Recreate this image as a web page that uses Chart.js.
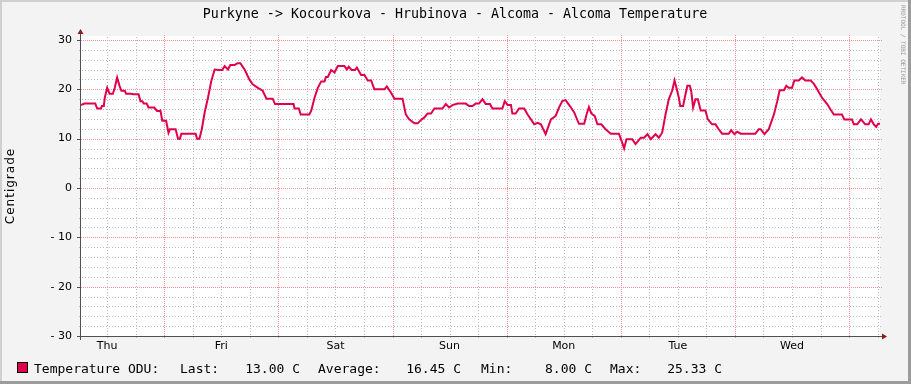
<!DOCTYPE html>
<html>
<head>
<meta charset="utf-8">
<script src="https://cdn.jsdelivr.net/npm/chart.js@4.4.1/dist/chart.umd.min.js"></script>
<style>
  html, body { margin: 0; padding: 0; background: #f3f3f3; }
  #grafico { display: block; }
</style>
</head>
<body>
<canvas id="grafico" width="911" height="384"></canvas>
<script>
// hodiny od ctvrtka 00:00
const hours = [
  6.5, 7.2, 9.5, 9.9, 10.7, 10.9, 11.3, 11.5, 12.0, 12.5, 13.2, 13.6, 14.1, 14.6, 15.0, 15.7,
  16.0, 17.0, 17.5, 18.6, 19.0, 19.4, 19.7, 20.3, 20.7, 21.9, 22.5, 22.9, 23.2, 23.6, 24.4, 24.9,
  25.2, 26.4, 26.9, 27.3, 27.6, 30.6, 30.9, 31.4, 31.9, 32.5, 33.2, 33.9, 34.6, 35.6, 36.2, 36.7,
  37.4, 37.9, 38.8, 39.4, 40.0, 40.9, 41.9, 42.6, 43.7, 44.7, 45.5, 46.8, 47.3, 51.2, 51.4, 52.3,
  52.7, 54.5, 54.9, 55.6, 56.3, 57.0, 57.7, 58.0, 58.4, 59.1, 59.8, 60.5, 61.9, 62.4, 62.8, 63.4,
  64.1, 64.5, 65.4, 66.1, 66.8, 67.5, 68.2, 70.3, 70.8, 71.7, 72.4, 74.1, 74.8, 75.5, 76.6, 77.3,
  78.0, 78.7, 79.4, 80.1, 80.8, 82.5, 83.2, 83.9, 84.6, 85.7, 87.4, 88.1, 88.8, 89.5, 90.2, 90.9,
  91.6, 92.5, 93.0, 95.1, 95.6, 96.2, 96.9, 97.2, 97.9, 98.6, 99.7, 100.4, 101.1, 101.8, 102.5, 103.2,
  104.2, 105.3, 106.3, 107.0, 107.7, 108.4, 109.3, 110.2, 111.2, 112.3, 112.8, 113.3, 113.8, 114.5, 115.1, 115.9,
  116.8, 117.9, 119.6, 120.3, 120.7, 121.2, 122.4, 123.1, 124.2, 124.9, 125.6, 126.3, 127.3, 128.0, 128.7, 129.4,
  130.1, 130.8, 131.3, 131.7, 132.2, 132.5, 133.1, 133.6, 134.0, 134.5, 134.8, 135.2, 135.7, 136.2, 136.8, 137.8,
  138.3, 139.2, 139.9, 140.6, 141.3, 142.7, 143.2, 143.9, 144.5, 145.2, 148.3, 149.0, 149.4, 150.2, 151.1, 152.2,
  152.9, 153.4, 154.3, 154.8, 155.3, 156.0, 156.5, 157.4, 158.1, 158.8, 159.9, 160.6, 161.3, 162.3, 163.4, 164.1,
  164.8, 166.5, 167.0, 168.6, 169.0, 169.7, 170.5, 171.4, 172.1, 172.6, 173.2, 173.7, 174.1, 174.5
];
const temps = [
  16.8, 17.1, 17.1, 16.1, 16.1, 16.6, 16.6, 18.3, 20.3, 19.1, 19.1, 20.3, 22.4, 20.7, 19.7, 19.7,
  19.1, 19.1, 19.0, 19.0, 17.6, 17.6, 17.1, 17.1, 16.3, 16.3, 15.6, 15.6, 15.7, 13.6, 13.6, 11.2,
  11.9, 11.9, 10.0, 10.0, 11.0, 11.0, 10.0, 10.0, 11.9, 15.3, 18.3, 21.7, 24.0, 23.9, 23.9, 24.7,
  24.0, 24.9, 24.9, 25.3, 25.3, 24.0, 22.0, 21.0, 20.3, 19.7, 18.1, 18.1, 17.0, 17.0, 16.1, 16.1,
  14.9, 14.9, 15.6, 18.3, 20.3, 21.6, 21.6, 22.5, 22.5, 23.9, 23.4, 24.7, 24.7, 24.0, 24.6, 23.9,
  23.9, 24.4, 22.9, 22.9, 21.8, 21.8, 20.0, 20.0, 20.6, 19.3, 18.1, 18.1, 14.9, 13.9, 13.1, 13.1,
  13.8, 14.3, 15.1, 15.1, 16.1, 16.1, 17.0, 16.3, 16.8, 17.1, 17.1, 16.6, 16.6, 17.1, 17.1, 18.0,
  17.0, 17.0, 16.1, 16.1, 17.6, 16.8, 16.8, 15.1, 15.1, 16.1, 16.1, 14.9, 13.9, 12.9, 13.2, 12.9,
  10.9, 13.9, 14.6, 16.3, 17.6, 17.8, 16.6, 15.3, 13.0, 13.0, 14.9, 16.4, 15.1, 14.6, 12.9, 12.9,
  11.9, 11.0, 11.0, 9.2, 8.0, 9.9, 9.9, 8.9, 10.2, 10.2, 10.9, 9.9, 10.9, 10.2, 11.2, 14.9,
  18.0, 19.7, 21.8, 20.3, 18.3, 16.6, 16.6, 19.0, 20.7, 20.7, 19.7, 16.3, 18.0, 18.0, 15.7, 15.7,
  13.9, 12.9, 12.9, 11.9, 11.0, 11.0, 11.7, 10.9, 11.4, 11.0, 11.0, 11.9, 11.9, 10.9, 11.9, 14.9,
  17.6, 19.8, 19.8, 20.7, 20.3, 20.3, 21.8, 21.8, 22.4, 21.8, 21.8, 21.1, 20.0, 18.3, 17.0, 15.9,
  14.9, 14.9, 13.9, 13.9, 12.9, 12.9, 13.9, 12.9, 12.9, 13.9, 12.9, 12.4, 13.0, 13.0
];
const dayNames = ["Thu", "Fri", "Sat", "Sun", "Mon", "Tue", "Wed"];
const dayNoon = [12, 36, 60, 84, 108, 132, 156];
const yTicks = [-30, -20, -10, 0, 10, 20, 30];
const statNames = ["Last:", "Average:", "Min:", "Max:"];
const statValues = [13.00, 16.45, 8.00, 25.33];

const titulek = "Purkyne -> Kocourkova - Hrubinova - Alcoma - Alcoma Temperature";
const nazevRady = "Temperature ODU:";
const barvaCary = "#e0004c";
const mono = "'DejaVu Sans Mono', monospace";
const sans = "'DejaVu Sans', sans-serif";

// pozadi, mrizka, osy, legenda - ve stylu rrdtool
const rrdPlugin = {
  id: "rrd",
  beforeDraw(chart) {
    const { ctx, chartArea: a } = chart;
    ctx.save();
    ctx.fillStyle = "#f3f3f3";
    ctx.fillRect(0, 0, 911, 384);
    ctx.fillStyle = "#d0d0d0";
    ctx.fillRect(0, 0, 911, 2);
    ctx.fillRect(0, 0, 2, 384);
    ctx.fillStyle = "#9c9c9c";
    ctx.fillRect(908, 0, 3, 384);
    ctx.fillRect(0, 381, 911, 3);
    ctx.fillStyle = "#ffffff";
    ctx.fillRect(a.left, a.top, a.right - a.left, a.bottom - a.top);
    ctx.restore();
  },
  beforeDatasetsDraw(chart) {
    const { ctx, chartArea: a, scales } = chart;
    const xs = scales.x, ys = scales.y;
    ctx.save();
    ctx.lineWidth = 1;
    // jemna mrizka
    ctx.strokeStyle = "#bcbcbc";
    ctx.setLineDash([1, 2]);
    for (let v = -28; v <= 28; v += 2) {
      if (v % 10 === 0) continue;
      const y = Math.round(ys.getPixelForValue(v)) + 0.5;
      ctx.beginPath(); ctx.moveTo(a.left - 2, y); ctx.lineTo(a.right + 2, y); ctx.stroke();
    }
    for (let h = 12; h <= 174; h += 6) {
      if (h % 24 === 0) continue;
      const x = Math.round(xs.getPixelForValue(h)) + 0.5;
      ctx.beginPath(); ctx.moveTo(x, a.bottom + 2); ctx.lineTo(x, a.top - 1); ctx.stroke();
    }
    // hlavni mrizka
    ctx.strokeStyle = "#ee9090";
    ctx.setLineDash([1, 1]);
    for (let v = -20; v <= 30; v += 10) {
      const y = Math.round(ys.getPixelForValue(v)) + 0.5;
      ctx.beginPath(); ctx.moveTo(a.left - 2, y); ctx.lineTo(a.right + 2, y); ctx.stroke();
    }
    for (let h = 24; h <= 168; h += 24) {
      const x = Math.round(xs.getPixelForValue(h)) + 0.5;
      ctx.beginPath(); ctx.moveTo(x, a.bottom + 2); ctx.lineTo(x, a.top - 1); ctx.stroke();
    }
    ctx.restore();
  },
  afterDatasetsDraw(chart) {
    const { ctx, chartArea: a, scales } = chart;
    const ys = scales.y;
    ctx.save();
    // osy
    ctx.strokeStyle = "#505050";
    ctx.lineWidth = 1;
    ctx.beginPath();
    ctx.moveTo(a.left - 0.5, a.bottom + 4); ctx.lineTo(a.left - 0.5, a.top - 3);
    ctx.moveTo(a.left - 4, a.bottom + 0.5); ctx.lineTo(a.right + 3, a.bottom + 0.5);
    ctx.stroke();
    for (const v of yTicks) {
      const y = Math.round(ys.getPixelForValue(v)) + 0.5;
      ctx.beginPath(); ctx.moveTo(a.left - 4, y); ctx.lineTo(a.left, y); ctx.stroke();
    }
    // sipky
    ctx.fillStyle = "#8c1c1c";
    ctx.beginPath();
    ctx.moveTo(a.left - 3.5, a.top - 2); ctx.lineTo(a.left + 2.5, a.top - 2); ctx.lineTo(a.left - 0.5, a.top - 7);
    ctx.closePath(); ctx.fill();
    ctx.beginPath();
    ctx.moveTo(a.right + 2, a.bottom - 2.5); ctx.lineTo(a.right + 2, a.bottom + 3.5); ctx.lineTo(a.right + 7, a.bottom + 0.5);
    ctx.closePath(); ctx.fill();

    // titulek
    ctx.fillStyle = "#000";
    ctx.font = "13.3px " + mono;
    ctx.textAlign = "center";
    ctx.textBaseline = "middle";
    ctx.fillText(titulek, 455, 15);

    // popis osy y
    ctx.save();
    ctx.translate(11, 186);
    ctx.rotate(-Math.PI / 2);
    ctx.font = "12px " + sans;
    ctx.letterSpacing = "1px";
    ctx.fillStyle = "#000";
    ctx.fillText("Centigrade", 0, 0);
    ctx.restore();

    // vodoznak
    ctx.save();
    ctx.translate(903, 5);
    ctx.rotate(Math.PI / 2);
    ctx.font = "6px " + mono;
    ctx.fillStyle = "#999999";
    ctx.textAlign = "left";
    ctx.textBaseline = "middle";
    ctx.fillText("RRDTOOL / TOBI OETIKER", 0, 0);
    ctx.restore();

    // legenda
    ctx.fillStyle = barvaCary;
    ctx.fillRect(17, 362, 11, 11);
    ctx.strokeStyle = "#000";
    ctx.strokeRect(17.5, 362.5, 10, 10);
    ctx.fillStyle = "#000";
    ctx.font = "13px " + mono;
    ctx.textBaseline = "alphabetic";
    ctx.textAlign = "left";
    ctx.fillText(nazevRady, 34, 373);
    const nameX = [180, 318, 481, 610];
    const valueEnd = [300, 461, 592, 722];
    statNames.forEach((n, i) => {
      ctx.textAlign = "left";
      ctx.fillText(n, nameX[i], 373);
      ctx.textAlign = "right";
      ctx.fillText(statValues[i].toFixed(2) + " C", valueEnd[i], 373);
    });
    ctx.restore();
  }
};

const body = hours.map((h, i) => ({ x: h, y: temps[i] }));

new Chart(document.getElementById("grafico"), {
  type: "line",
  data: {
    datasets: [{
      label: nazevRady,
      data: body,
      borderColor: barvaCary,
      borderWidth: 2,
      pointRadius: 0,
      tension: 0,
      fill: false
    }]
  },
  options: {
    responsive: false,
    animation: false,
    events: [],
    layout: { padding: { left: 0, top: 36, right: 31, bottom: 0 } },
    plugins: { legend: { display: false }, tooltip: { enabled: false }, title: { display: false } },
    scales: {
      x: {
        type: "linear",
        min: 6.5,
        max: 174.5,
        afterBuildTicks: (s) => { s.ticks = dayNoon.map((v) => ({ value: v })); },
        afterFit: (s) => { s.height = 48; },
        ticks: {
          autoSkip: false,
          maxRotation: 0,
          padding: 4,
          color: "#000",
          font: { family: sans, size: 11 },
          callback: (v) => dayNames[dayNoon.indexOf(v)]
        },
        grid: { display: false, drawTicks: false },
        border: { display: false }
      },
      y: {
        min: -30,
        max: 30.8,
        afterBuildTicks: (s) => { s.ticks = yTicks.map((v) => ({ value: v })); },
        afterFit: (s) => { s.width = 81; },
        ticks: {
          padding: 9,
          color: "#000",
          font: { family: sans, size: 11 },
          callback: (v) => (v < 0 ? "- " + Math.abs(v) : String(v))
        },
        grid: { display: false, drawTicks: false },
        border: { display: false }
      }
    }
  },
  plugins: [rrdPlugin]
});
</script>
</body>
</html>
